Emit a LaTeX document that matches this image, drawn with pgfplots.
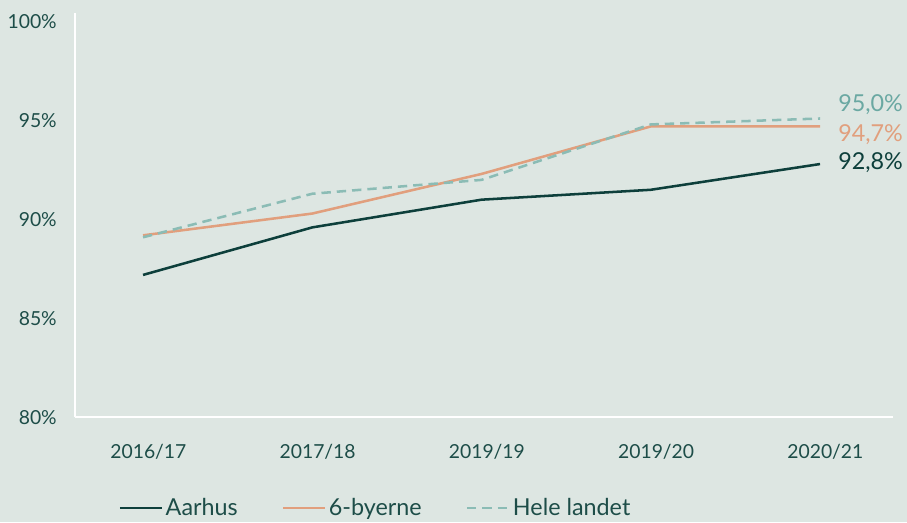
\documentclass[border=0pt]{standalone}
\usepackage{pgfplots}
\pgfplotsset{compat=1.18}
\usepackage{fontspec}
\setmainfont{Lato}
\definecolor{bg}{HTML}{DDE6E2}
\definecolor{txt}{HTML}{1D4D48}
\definecolor{aarhus}{HTML}{0D3F3B}
\definecolor{byer}{HTML}{E19F7D}
\definecolor{hele}{HTML}{8BBCB5}
\definecolor{helelab}{HTML}{6AA8A2}
\begin{document}
\begin{tikzpicture}
\fill[bg] (-56.25pt,-78.375pt) rectangle (624pt,313.125pt);
\begin{axis}[
  at={(0pt,0pt)}, anchor=south west,
  scale only axis, width=613.5pt, height=303.4pt,
  xmin=-0.402, xmax=4.431, ymin=80, ymax=100.43,
  axis x line=bottom, axis y line=left,
  axis line style={draw=white, line width=1.5pt, -},
  xtick={0,1,2,3,4},
  xticklabels={2016/17,2017/18,2019/19,2019/20,2020/21},
  ytick={80,85,90,95,100},
  yticklabels={80\%,85\%,90\%,95\%,100\%},
  major tick length=0pt,
  tick style={draw=none},
  every tick label/.append style={text=txt, font=\fontsize{14.5}{16}\selectfont},
  xticklabel style={anchor=base, inner sep=0pt, yshift=-30.6pt, xshift=4pt},
  yticklabel style={anchor=east, inner sep=0pt, xshift=-13.5pt},
  clip=false,
  legend style={at={(0.048,-0.2237)}, anchor=west, draw=none, fill=none,
    legend columns=3, font=\fontsize{17.5}{19}\selectfont, text=txt,
    /tikz/every even column/.append style={column sep=31pt},
    legend cell align=left},
  legend image code/.code={\draw[#1] (0pt,0pt) -- (31.5pt,0pt);},
]
\addplot[aarhus, line width=1.9pt, line join=round] coordinates {(0,87.2) (1,89.6) (2,91.0) (3,91.5) (4,92.8)};
\addlegendentry{Aarhus}
\addplot[byer, line width=1.9pt, line join=round] coordinates {(0,89.2) (1,90.3) (2,92.3) (3,94.7) (4,94.7)};
\addlegendentry{6-byerne}
\addplot[hele, line width=1.9pt, line join=round, dash pattern=on 7pt off 4.5pt] coordinates {(0,89.1) (1,91.3) (2,92.0) (3,94.8) (4,95.1)};
\addlegendentry{Hele landet}
\node[anchor=west, inner sep=0pt, text=helelab, font=\fontsize{17.5}{19}\selectfont] at (axis cs:4,95.82) [xshift=13.5pt] {95,0\%};
\node[anchor=west, inner sep=0pt, text=byer, font=\fontsize{17.5}{19}\selectfont] at (axis cs:4,94.3) [xshift=13.5pt] {94,7\%};
\node[anchor=west, inner sep=0pt, text=aarhus, font=\fontsize{17.5}{19}\selectfont] at (axis cs:4,92.85) [xshift=13.5pt] {92,8\%};
\end{axis}
\end{tikzpicture}
\end{document}
